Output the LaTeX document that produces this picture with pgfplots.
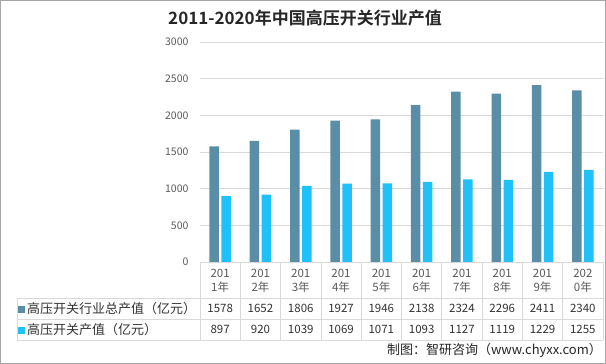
\documentclass[border=0pt]{standalone}
\usepackage{pgfplots}
\pgfplotsset{compat=1.18}
\usepackage{fontspec}
\setmainfont{Noto Sans CJK SC}[BoldFont={Noto Sans CJK SC Bold}]
\definecolor{darkbar}{RGB}{90,142,166}
\definecolor{cyanbar}{RGB}{32,192,248}
\definecolor{gridc}{RGB}{217,217,217}
\definecolor{txt}{RGB}{89,89,89}
\definecolor{tbl}{RGB}{50,50,50}
\pgfplotstableread{
x total
1 1578
2 1652
3 1806
4 1927
5 1946
6 2138
7 2324
8 2296
9 2411
10 2340
}\totaltab
\pgfplotstableread{
x sw
1 897
2 920
3 1039
4 1069
5 1071
6 1093
7 1127
8 1119
9 1229
10 1255
}\swtab
\begin{document}
\begin{tikzpicture}[x=1pt,y=1pt]
\draw[gray!70, line width=0.8pt] (0.4,0.4) rectangle (605.6,363.6);
\begin{axis}[at={(200pt,102pt)}, anchor=south west,
  scale only axis, width=403pt, height=220pt,
  xmin=0.5, xmax=10.5, ymin=0, ymax=3000,
  ytick={0,500,...,3000}, xtick=\empty,
  ymajorgrids, grid style={gridc, line width=0.7pt},
  axis line style={draw=none}, major tick length=0pt,
  yticklabel style={font=\fontsize{10.5}{12}\selectfont, text=txt, xshift=-8pt},
  /pgf/number format/assume math mode=true,
  /pgf/number format/1000 sep={},
  ybar, bar width=9.5pt, clip=false]
\addplot[fill=darkbar, draw=none, bar shift=-6pt] table[x=x,y=total] {\totaltab};
\addplot[fill=cyanbar, draw=none, bar shift=6pt] table[x=x,y=sw] {\swtab};
\end{axis}
% title
\node[font=\fontsize{17}{20}\selectfont\bfseries, text=black!85] at (305,346) {2011-2020年中国高压开关行业产值};
% table lines
\draw[gridc, line width=0.7pt] (200,102) -- (603,102);
\draw[gridc, line width=0.7pt] (17,66) -- (603,66);
\draw[gridc, line width=0.7pt] (17,45) -- (603,45);
\draw[gridc, line width=0.7pt] (17,24) -- (603,24);
\draw[gridc, line width=0.7pt] (17,66) -- (17,24);
\foreach \k in {0,...,10} {
  \draw[gridc, line width=0.7pt] ({200+40.3*\k},102) -- ({200+40.3*\k},24);
}
\foreach \a/\b/\v/\w [count=\k from 0] in {201/1/1578/897, 201/2/1652/920, 201/3/1806/1039, 201/4/1927/1069, 201/5/1946/1071, 201/6/2138/1093, 201/7/2324/1127, 201/8/2296/1119, 201/9/2411/1229, 202/0/2340/1255} {
  \node[font=\fontsize{11.5}{12}\selectfont, text=txt] at ({220.15+40.3*\k},90.5) {\a};
  \node[font=\fontsize{11.5}{12}\selectfont, text=txt] at ({220.15+40.3*\k},76.5) {{\b}年};
  \node[font=\fontsize{11.5}{12}\selectfont, text=tbl] at ({220.15+40.3*\k},55.5) {\v};
  \node[font=\fontsize{11.5}{12}\selectfont, text=tbl] at ({220.15+40.3*\k},34.5) {\w};
}
\node[anchor=west, font=\fontsize{13}{14}\selectfont, text=tbl, inner sep=0pt] at (18,55.5) {{\color{darkbar}\rule{7pt}{7pt}}\hspace{2pt}高压开关行业总产值（亿元）};
\node[anchor=west, font=\fontsize{13}{14}\selectfont, text=tbl, inner sep=0pt] at (18,34.5) {{\color{cyanbar}\rule{7pt}{7pt}}\hspace{2pt}高压开关产值（亿元）};
% footer
\node[anchor=east, font=\fontsize{13}{15}\selectfont, text=black!85, inner sep=0pt] at (602,14) {制图：智研咨询（www.chyxx.com）};
\pgfresetboundingbox
\path[use as bounding box] (0,0) rectangle (606,364);
\end{tikzpicture}
\end{document}
